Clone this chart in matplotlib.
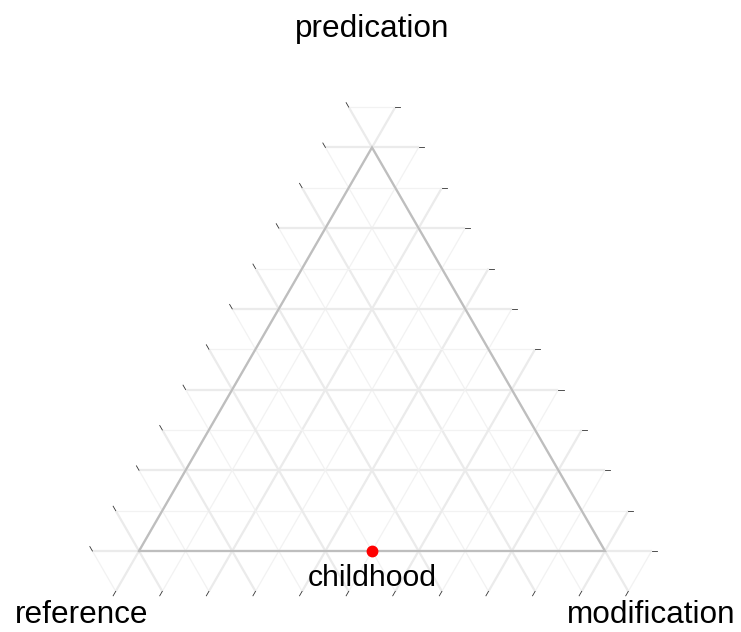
import numpy as np
import matplotlib
matplotlib.use("Agg")
import matplotlib.pyplot as plt

# ---- data ----
point_names = ["childhood"]
reference = [0.5]      # left vertex component
predication = [0.0]    # top vertex component
modification = [0.5]   # right vertex component

axis_titles = {"top": "predication", "left": "reference", "right": "modification"}
grid_values = [round(v * 0.1, 1) for v in range(0, 12)]  # 0.0 .. 1.1
ext = 0.1  # grid extension beyond the triangle

H = np.sqrt(3) / 2


def to_xy(L, T, R):
    T = np.asarray(T, float)
    R = np.asarray(R, float)
    return R + T / 2, T * H


fig = plt.figure(figsize=(7.41, 6.32), dpi=100)
ax = fig.add_axes([0, 0, 1, 1])
side = 466.0
ax.set_xlim(-139 / side, (741 - 139) / side)
ax.set_ylim((551 - 632) / side, 551 / side)
ax.set_axis_off()

major_c, minor_c = "#EBEBEB", "#F2F2F2"
tick_c = "#333333"
tlen = 0.011

def seg(p0, p1, major):
    ax.plot([p0[0], p1[0]], [p0[1], p1[1]],
            color=major_c if major else minor_c,
            lw=1.6 if major else 0.9, solid_capstyle="butt", zorder=1)

def tick(p_end, p_other):
    d = np.array(p_end) - np.array(p_other)
    d = d / np.hypot(*d)
    q = np.array(p_end) + d * tlen
    ax.plot([p_end[0], q[0]], [p_end[1], q[1]], color=tick_c, lw=0.6, zorder=2)

for v in grid_values:
    major = int(round(v * 10)) % 2 == 0
    # predication (horizontal) lines: from R=-ext to L=-ext
    a = to_xy(1 + ext - v, v, -ext)
    b = to_xy(-ext, v, 1 + ext - v)
    seg(a, b, major)
    tick(b, a)
    # reference lines: from T=-ext to R=-ext
    a = to_xy(v, -ext, 1 + ext - v)
    b = to_xy(v, 1 + ext - v, -ext)
    seg(a, b, major)
    tick(b, a)
    # modification lines: from T=-ext to L=-ext
    a = to_xy(1 + ext - v, -ext, v)
    b = to_xy(-ext, 1 + ext - v, v)
    seg(a, b, major)
    tick(a, b)

# triangle border
corners = [to_xy(1, 0, 0), to_xy(0, 0, 1), to_xy(0, 1, 0), to_xy(1, 0, 0)]
ax.plot([c[0] for c in corners], [c[1] for c in corners],
        color="#BEBEBE", lw=1.6, zorder=3, solid_joinstyle="miter")

# points
px, py = to_xy(np.array(reference), np.array(predication), np.array(modification))
ax.plot(px, py, "o", color="#FF0000", ms=7.5, zorder=5)
for name, x, y in zip(point_names, px, py):
    ax.text(x, y - 27 / side, name, ha="center", va="center",
            fontsize=21.7, family="Liberation Sans", color="black", zorder=6)

tf = dict(fontsize=22.7, family="Liberation Sans", color="black")
ax.text(0.5, (551 - 29) / side, axis_titles["top"], ha="center", va="center", **tf)
ax.text((82 - 139) / side, (551 - 615) / side, axis_titles["left"], ha="center", va="center", **tf)
ax.text((651 - 139) / side, (551 - 615) / side, axis_titles["right"], ha="center", va="center", **tf)

fig.savefig("out.png", dpi=100)
